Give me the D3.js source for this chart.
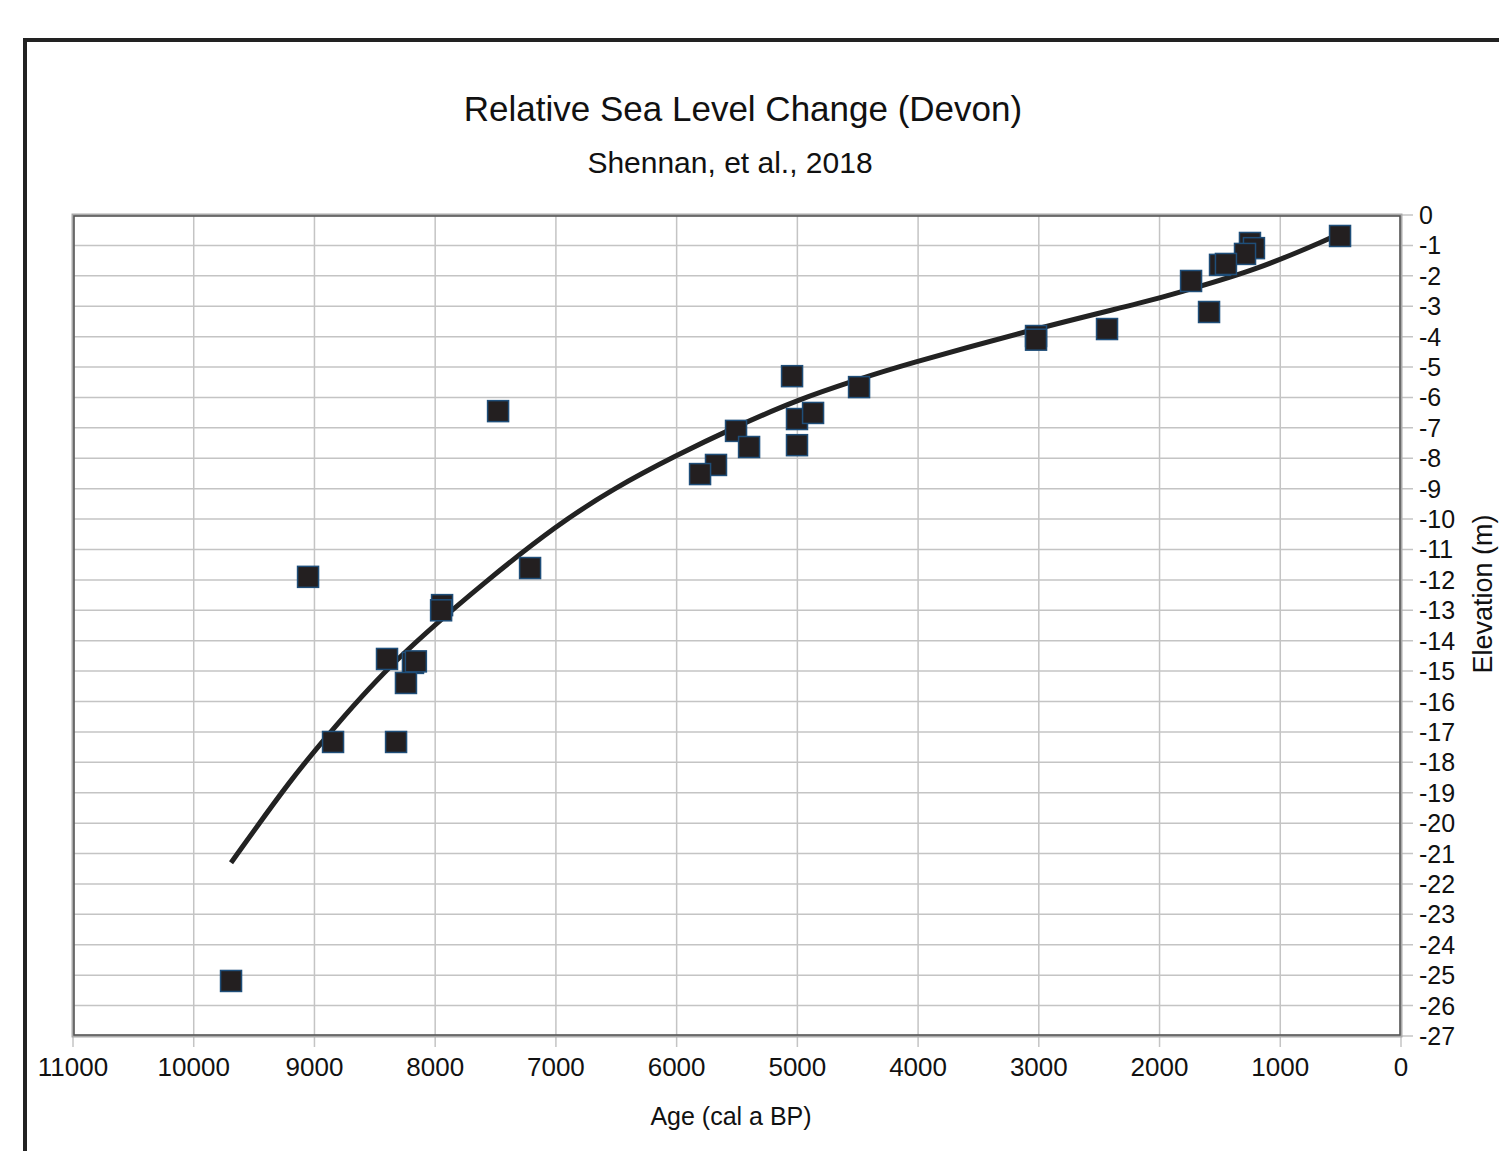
<!DOCTYPE html>
<html>
<head>
<meta charset="utf-8">
<script src="https://cdn.jsdelivr.net/npm/d3@7"></script>
<style>
  body { margin: 0; background: #fff; }
  svg { display: block; font-family: "Liberation Sans", Arial, sans-serif; }
</style>
</head>
<body>
<script>
// sample points (age cal a BP, elevation m)
const ages = [505, 1251, 1218, 1292, 1499, 1450, 1739, 1590, 2435, 3023, 3023, 4489, 5044, 5003, 4870, 5003, 5508, 5400, 5674, 5806, 7479, 7214, 9053, 7943, 7951, 8399, 8184, 8160, 8242, 8846, 8324, 9691];
const elevs = [-0.69, -0.92, -1.09, -1.28, -1.64, -1.61, -2.17, -3.19, -3.75, -3.98, -4.1, -5.66, -5.30, -6.71, -6.51, -7.57, -7.10, -7.63, -8.22, -8.52, -6.45, -11.61, -11.9, -12.83, -13.0, -14.6, -14.73, -14.68, -15.39, -17.33, -17.33, -25.19];

// trend line
const trendAges = [9691, 9186, 8846, 8350, 7546, 6991, 6527, 5997, 5508, 5003, 4489, 4150, 3015, 2054, 1830, 1193, 563];
const trendElevs = [-21.3, -18.5, -16.9, -14.65, -11.92, -10.2, -9.0, -7.89, -6.96, -6.08, -5.4, -4.97, -3.72, -2.80, -2.53, -1.81, -0.72];

const xTicks = d3.range(0, 11001, 1000);
const yTicks = d3.range(0, -28, -1);

const width = 1499, height = 1151;
const plotL = 73, plotR = 1401, plotT = 215, plotB = 1036;

const svg = d3.select("body").append("svg")
  .attr("width", width)
  .attr("height", height);

// outer frame (only top and left visible)
svg.append("path")
  .attr("d", `M25,${height} L25,40 L${width},40`)
  .attr("fill", "none")
  .attr("stroke", "#222")
  .attr("stroke-width", 4);

const x = d3.scaleLinear().domain([11000, 0]).range([plotL, plotR]);
const y = d3.scaleLinear().domain([0, -27]).range([plotT, plotB]);

// grid
svg.append("g").selectAll("line")
  .data(xTicks)
  .enter().append("line")
  .attr("x1", d => x(d)).attr("x2", d => x(d))
  .attr("y1", plotT).attr("y2", plotB + 11)
  .attr("stroke", "#c4c4c4")
  .attr("stroke-width", 1.5);

svg.append("g").selectAll("line")
  .data(yTicks)
  .enter().append("line")
  .attr("x1", plotL).attr("x2", plotR + 12)
  .attr("y1", d => y(d)).attr("y2", d => y(d))
  .attr("stroke", "#c4c4c4")
  .attr("stroke-width", 1.5);

// plot border
svg.append("rect")
  .attr("x", plotL).attr("y", plotT)
  .attr("width", plotR - plotL).attr("height", plotB - plotT)
  .attr("fill", "none")
  .attr("stroke", "#aaa")
  .attr("stroke-width", 3);
svg.append("rect")
  .attr("x", plotL + 1).attr("y", plotT + 1)
  .attr("width", plotR - plotL - 2).attr("height", plotB - plotT - 2)
  .attr("fill", "none")
  .attr("stroke", "#555")
  .attr("stroke-width", 1.5);

// tick labels
svg.append("g").selectAll("text")
  .data(xTicks)
  .enter().append("text")
  .attr("x", d => x(d))
  .attr("y", 1076)
  .attr("text-anchor", "middle")
  .attr("font-size", 26)
  .attr("fill", "#111")
  .text(d => d);

svg.append("g").selectAll("text")
  .data(yTicks)
  .enter().append("text")
  .attr("x", 1419)
  .attr("y", d => y(d))
  .attr("dy", "0.36em")
  .attr("font-size", 25)
  .attr("fill", "#111")
  .text(d => d);

// titles
svg.append("text")
  .attr("x", 743).attr("y", 121)
  .attr("text-anchor", "middle")
  .attr("font-size", 35)
  .attr("fill", "#111")
  .text("Relative Sea Level Change (Devon)");

svg.append("text")
  .attr("x", 730).attr("y", 173)
  .attr("text-anchor", "middle")
  .attr("font-size", 30)
  .attr("fill", "#111")
  .text("Shennan, et al., 2018");

svg.append("text")
  .attr("x", 731).attr("y", 1125)
  .attr("text-anchor", "middle")
  .attr("font-size", 25)
  .attr("fill", "#111")
  .text("Age (cal a BP)");

svg.append("text")
  .attr("transform", "translate(1492,594) rotate(-90)")
  .attr("text-anchor", "middle")
  .attr("font-size", 27)
  .attr("fill", "#111")
  .text("Elevation (m)");

// trend line
const line = d3.line()
  .x(d => x(d[0]))
  .y(d => y(d[1]))
  .curve(d3.curveBasis);

svg.append("path")
  .datum(d3.zip(trendAges, trendElevs))
  .attr("d", line)
  .attr("fill", "none")
  .attr("stroke", "#222")
  .attr("stroke-width", 5);

// markers
const s = 21;
svg.append("g").selectAll("rect")
  .data(d3.zip(ages, elevs))
  .enter().append("rect")
  .attr("x", d => x(d[0]) - s / 2)
  .attr("y", d => y(d[1]) - s / 2)
  .attr("width", s).attr("height", s)
  .attr("fill", "#231f20")
  .attr("stroke", "#1f4e79")
  .attr("stroke-width", 1.5);
</script>
</body>
</html>
